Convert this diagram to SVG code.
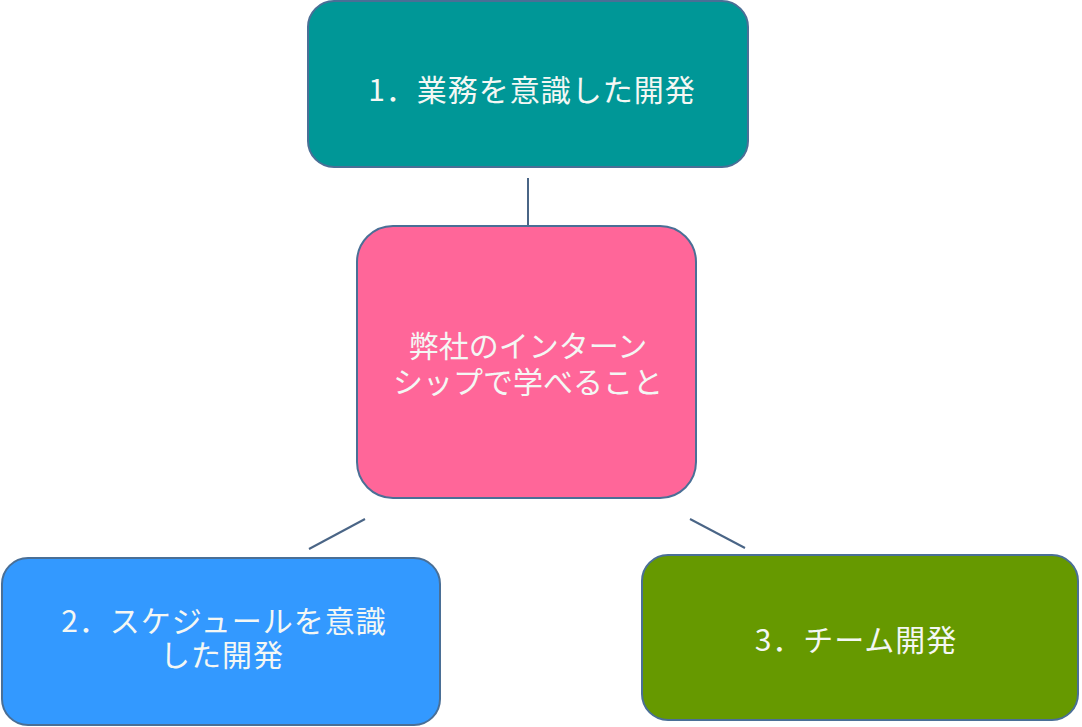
<svg xmlns="http://www.w3.org/2000/svg" width="1082" height="727" viewBox="0 0 1082 727">
<style>
.box{stroke:#4a6f96;stroke-width:2}
.lbl{font-family:"Noto Sans CJK JP","Noto Sans",sans-serif;font-size:30px;fill:#f4f7f4;text-anchor:middle;dominant-baseline:central}
.num{letter-spacing:1px}
.conn{stroke:#4a6586;stroke-width:2;fill:none}
</style>
<rect width="1082" height="727" fill="#ffffff"/>
<g id="connectors">
<line class="conn" x1="528" y1="178" x2="528" y2="226"/>
<line class="conn" x1="365" y1="519" x2="309" y2="549"/>
<line class="conn" x1="690" y1="519" x2="745" y2="548"/>
</g>
<g id="node1">
<rect class="box" x="308" y="1" width="440" height="166" rx="26" fill="#009797"/>
<text class="lbl num" x="532" y="88">1．業務を意識した開発</text>
</g>
<g id="center">
<rect class="box" x="357" y="226" width="339" height="272" rx="36" fill="#ff6699"/>
<text class="lbl" x="528" y="344">弊社のインターン</text>
<text class="lbl" x="528" y="380">シップで学べること</text>
</g>
<g id="node2">
<rect class="box" x="2" y="558" width="438" height="167" rx="26" fill="#3399ff"/>
<text class="lbl num" x="224" y="619">2．スケジュールを意識</text>
<text class="lbl num" x="222" y="653">した開発</text>
</g>
<g id="node3">
<rect class="box" x="642" y="555" width="436" height="165" rx="26" fill="#669900"/>
<text class="lbl num" x="856" y="638">3．チーム開発</text>
</g>
</svg>
